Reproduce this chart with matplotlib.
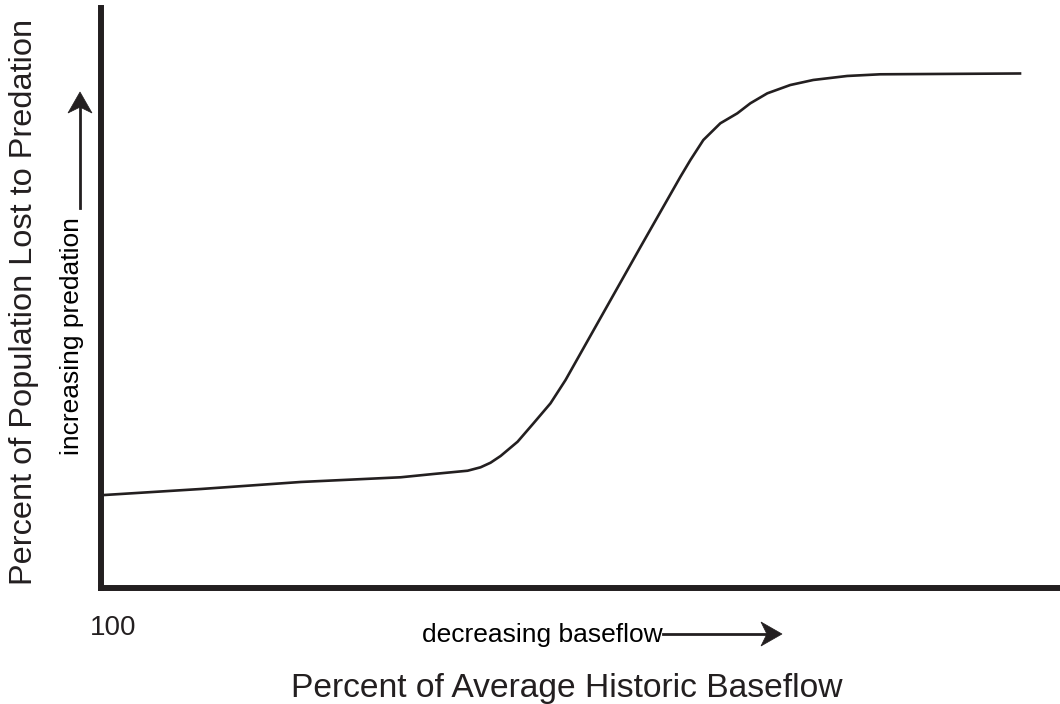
import matplotlib.pyplot as plt
from matplotlib.patches import Polygon

# percent of historic baseflow (axis runs from 100 at the left, decreasing)
baseflow = [99.69, 89.58, 79.17, 68.75, 65.31, 61.77, 60.42, 59.38, 58.33,
            56.56, 54.90, 53.13, 51.56, 47.92, 43.75, 39.58, 38.54, 37.19,
            35.42, 33.65, 32.29, 30.52, 28.13, 25.73, 22.19, 18.75, 13.54, 4.17]
# percent of population lost to predation (relative units)
predation = [16.03, 17.07, 18.28, 19.09, 19.66, 20.22, 20.81, 21.60, 22.76,
             25.22, 28.40, 31.84, 35.86, 46.55, 58.79, 70.91, 73.79, 77.24,
             80.12, 81.84, 83.57, 85.29, 86.72, 87.59, 88.28, 88.57, 88.62, 88.71]

plt.rcParams["font.family"] = ["Liberation Sans", "DejaVu Sans"]
INK = "#231f20"
W, H = 1060, 704

fig = plt.figure(figsize=(W / 100, H / 100), dpi=100)
ax = fig.add_axes([101 / W, 116 / H, 959 / W, 580 / H])

ax.plot(baseflow, predation, color=INK, lw=1.9, solid_joinstyle="round")
ax.set_xlim(100, 0)
ax.set_ylim(0, 100)
ax.set_xticks([])
ax.set_yticks([])
for side in ["top", "right"]:
    ax.spines[side].set_visible(False)
for side in ["left", "bottom"]:
    ax.spines[side].set_linewidth(4.3)
    ax.spines[side].set_color(INK)
    ax.spines[side].set_capstyle("projecting")


def px(x, y):
    return (x / W, 1 - y / H)


def stealth_arrow(start, tip, length=21, width=24):
    # shaft plus a notched arrow head, given in pixel coordinates
    (x0, y0), (x1, y1) = start, tip
    dx, dy = x1 - x0, y1 - y0
    d = (dx ** 2 + dy ** 2) ** 0.5
    ux, uy = dx / d, dy / d
    nx, ny = -uy, ux
    bx, by = x1 - ux * length, y1 - uy * length
    notch = (x1 - ux * length * 0.72, y1 - uy * length * 0.72)
    fig.add_artist(plt.Line2D([x0 / W, notch[0] / W], [1 - y0 / H, 1 - notch[1] / H],
                              transform=fig.transFigure, color=INK, lw=2.0))
    head = [px(x1, y1),
            px(bx + nx * width / 2, by + ny * width / 2),
            px(*notch),
            px(bx - nx * width / 2, by - ny * width / 2)]
    fig.add_artist(Polygon(head, closed=True, transform=fig.transFigure,
                           facecolor=INK, edgecolor=INK, lw=0.5))


# axis titles
fig.text(*px(24, 302), "Percent of Population Lost to Predation",
         rotation=90, ha="center", va="center", fontsize=23.4, color=INK)
fig.text(*px(567, 688), "Percent of Average Historic Baseflow",
         ha="center", va="center", fontsize=24.2, color=INK)
fig.text(*px(113, 628), "100", ha="center", va="center", fontsize=20, color=INK)

# direction hints
fig.text(*px(72, 336), "increasing predation",
         rotation=90, ha="center", va="center", fontsize=19, color="black")
fig.text(*px(542, 635), "decreasing baseflow",
         ha="center", va="center", fontsize=19, color="black")
stealth_arrow((80, 208), (80, 92))
stealth_arrow((663, 634), (782, 634))

fig.savefig("out.png", dpi=100)
